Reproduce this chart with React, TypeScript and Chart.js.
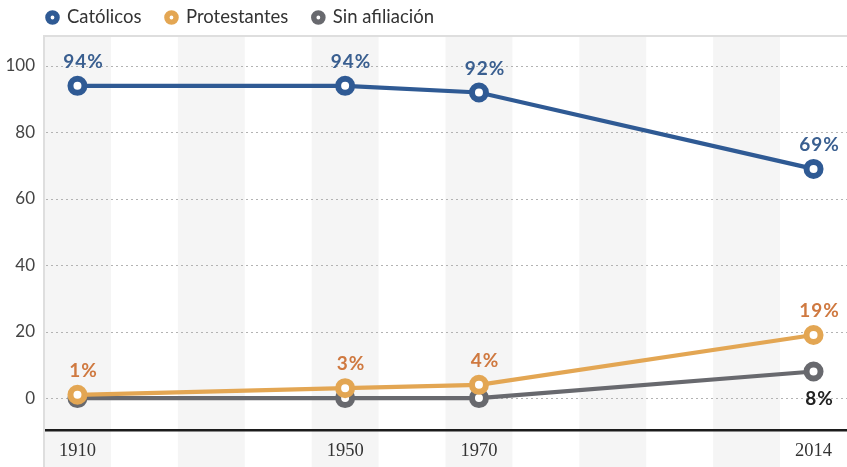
import React, { useEffect, useRef } from 'react';
import { Chart, registerables } from 'chart.js';

Chart.register(...registerables);

// Decade slots of the x axis (the reference places 2014 in the last slot)
const categories = ['1910', '1920', '1930', '1940', '1950', '1960', '1970', '1980', '1990', '2000', '2010', '2014'];
const labeledYears = ['1910', '1950', '1970', '2014'];

const catolicos = [94, null, null, null, 94, null, 92, null, null, null, null, 69];
const protestantes = [1, null, null, null, 3, null, 4, null, null, null, null, 19];
const sinAfiliacion = [0, null, null, null, 0, null, 0, null, null, null, null, 8];

const seriesNames = ['Católicos', 'Protestantes', 'Sin afiliación'];
const seriesColors = ['#2f5a94', '#e3a653', '#68696e'];
const labelColors = ['#3a5f90', '#cf7940', '#222222'];
const yTicks = [0, 20, 40, 60, 80, 100];

const SANS = 'Lato, "Open Sans", sans-serif';
const SERIF = '"Liberation Serif", "DejaVu Serif", serif';

const decorPlugin = {
  id: 'decor',
  beforeDraw(chart: any) {
    const { ctx, chartArea: ca, scales } = chart;
    const x = scales.x;
    const y = scales.y;
    ctx.save();
    const bw = (ca.right - ca.left) / categories.length;
    ctx.fillStyle = '#f5f5f5';
    for (let i = 0; i < categories.length; i += 2) {
      const cx = x.getPixelForValue(i);
      ctx.fillRect(cx - bw / 2, ca.top, bw, chart.height - ca.top);
    }
    ctx.fillStyle = '#dedede';
    ctx.fillRect(ca.left, ca.top - 1, ca.right - ca.left, 2);
    ctx.fillRect(ca.left - 1, ca.top - 1, 2, chart.height - ca.top + 1);
    ctx.strokeStyle = '#b3b3b3';
    ctx.lineWidth = 1.2;
    ctx.setLineDash([2, 3]);
    for (const t of yTicks) {
      const py = Math.round(y.getPixelForValue(t)) + 0.5;
      ctx.beginPath();
      ctx.moveTo(ca.left + 2, py);
      ctx.lineTo(ca.right, py);
      ctx.stroke();
    }
    ctx.setLineDash([]);
    ctx.fillStyle = '#1c1c1c';
    ctx.fillRect(ca.left + 1, ca.bottom - 1, ca.right - ca.left, 2.5);
    ctx.restore();
  },
  afterDatasetsDraw(chart: any) {
    const { ctx } = chart;
    ctx.save();
    ctx.font = `bold 19px ${SANS}`;
    try { (ctx as any).letterSpacing = '1px'; } catch (e) {}
    ctx.textAlign = 'center';
    ctx.textBaseline = 'middle';
    chart.data.datasets.forEach((ds: any, di: number) => {
      const meta = chart.getDatasetMeta(di);
      ds.data.forEach((v: number | null, i: number) => {
        if (v == null) return;
        const below = di === 2;
        if (below && v <= 0) return;
        const pt = meta.data[i];
        ctx.fillStyle = labelColors[di];
        ctx.fillText(`${v}%`, pt.x + 6, below ? pt.y + 27 : pt.y - 24);
      });
    });
    ctx.restore();
  },
  afterDraw(chart: any) {
    const { ctx } = chart;
    ctx.save();
    ctx.font = `18.5px ${SANS}`;
    ctx.textBaseline = 'middle';
    ctx.textAlign = 'left';
    let cx = 52.5;
    const cy = 17.5;
    seriesNames.forEach((name, i) => {
      ctx.beginPath();
      ctx.arc(cx, cy, 4.6, 0, Math.PI * 2);
      ctx.fillStyle = '#ffffff';
      ctx.fill();
      ctx.lineWidth = 5.4;
      ctx.strokeStyle = seriesColors[i];
      ctx.stroke();
      ctx.fillStyle = '#333333';
      const tx = cx + 14.5;
      ctx.fillText(name, tx, cy);
      cx = tx + ctx.measureText(name).width + 30;
    });
    ctx.restore();
  },
};

export default function App() {
  const ref = useRef<HTMLCanvasElement | null>(null);

  useEffect(() => {
    if (!ref.current) return;
    const mk = (i: number, data: (number | null)[]) => ({
      label: seriesNames[i],
      data,
      borderColor: seriesColors[i],
      backgroundColor: seriesColors[i],
      borderWidth: 4.2,
      pointRadius: 7,
      pointHoverRadius: 7,
      pointBorderWidth: 6,
      pointBackgroundColor: '#ffffff',
      pointBorderColor: seriesColors[i],
      spanGaps: true,
      tension: 0,
    });
    const chart = new Chart(ref.current, {
      type: 'line',
      data: {
        labels: categories,
        datasets: [mk(0, catolicos), mk(1, protestantes), mk(2, sinAfiliacion)],
      },
      options: {
        responsive: false,
        animation: false,
        devicePixelRatio: 1,
        layout: { autoPadding: false, padding: { top: 36, left: 0, right: 0, bottom: 0 } },
        plugins: { legend: { display: false }, tooltip: { enabled: false } },
        scales: {
          x: {
            type: 'category',
            offset: true,
            grid: { display: false },
            border: { display: false },
            ticks: {
              autoSkip: false,
              maxRotation: 0,
              padding: 2,
              color: '#333333',
              font: { family: SERIF, size: 18.5 },
              callback: (_v: any, idx: number) =>
                labeledYears.includes(categories[idx]) ? categories[idx] : '',
            },
            afterFit: (s: any) => {
              s.height = 37;
              s.paddingLeft = 0;
              s.paddingRight = 0;
            },
          },
          y: {
            min: -9.6,
            max: 109,
            grid: { display: false, drawTicks: false },
            border: { display: false },
            afterBuildTicks: (s: any) => {
              s.ticks = yTicks.map((v) => ({ value: v }));
            },
            ticks: {
              padding: 9,
              color: '#444444',
              font: { family: SANS, size: 17 },
            },
            afterFit: (s: any) => {
              s.width = 44;
              s.paddingTop = 0;
              s.paddingBottom = 0;
            },
          },
        },
      },
      plugins: [decorPlugin],
    });
    return () => chart.destroy();
  }, []);

  return (
    <div style={{ position: 'absolute', left: 0, top: 0, width: 847, height: 467, background: '#ffffff' }}>
      <canvas ref={ref} width={847} height={467} />
    </div>
  );
}
